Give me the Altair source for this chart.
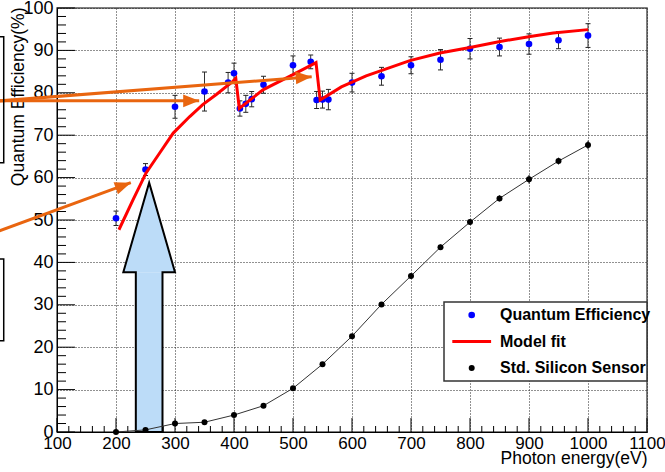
import math
import altair as alt
import pandas as pd

# ---------------------------------------------------------------------------
# Data
# ---------------------------------------------------------------------------
# Measured quantum efficiency of the sensor (%)
qe_energy = [200, 250, 300, 350, 390, 400, 410, 420, 430, 450, 500, 530,
             540, 550, 560, 600, 650, 700, 750, 800, 850, 900, 950, 1000]
qe_value = [50.4, 61.9, 76.7, 80.3, 82.4, 84.6, 76.3, 77.4, 78.5, 81.9, 86.5, 87.3,
            78.3, 78.4, 78.4, 82.4, 83.9, 86.5, 87.8, 90.4, 90.8, 91.5, 92.4, 93.5]
qe_error = [1.7, 1.4, 2.7, 4.6, 2.4, 2.4, 1.8, 2.0, 1.8, 2.0, 2.2, 1.6,
            2.0, 2.0, 2.4, 2.2, 2.1, 2.0, 2.4, 2.4, 2.1, 2.4, 2.0, 2.8]

# Model fit (absorption-edge model)
fit_energy = [205, 229, 251, 274, 297, 325, 347, 370, 398, 403, 409, 449,
              500, 539, 546, 582, 624, 698, 749, 800, 851, 902, 941, 1000]
fit_value = [47.7, 54.8, 61.1, 65.8, 70.5, 74.4, 77.2, 79.6, 82.7, 83.4, 76.3, 80.7,
             84.3, 87.1, 78.3, 81.4, 84.0, 87.6, 89.4, 90.7, 92.1, 93.3, 94.1, 94.9]

# Standard silicon sensor for comparison (%)
si_energy = [200, 250, 300, 350, 400, 450, 500, 550, 600, 650, 700, 750,
             800, 850, 900, 950, 1000]
si_value = [0.0, 0.5, 2.0, 2.3, 4.0, 6.2, 10.3, 16.0, 22.6, 30.1, 36.8, 43.6,
            49.5, 55.1, 59.6, 63.9, 67.7]
si_error = [0.2, 0.2, 0.3, 0.3, 0.3, 0.4, 0.4, 0.5, 0.5, 0.5, 0.6, 0.6,
            0.6, 0.7, 1.0, 0.8, 1.0]

# Axis ticks
x_tick_labels = list(range(100, 1101, 100))
y_tick_labels = list(range(0, 101, 10))
x_minor_ticks = [v for v in range(100, 1101, 20) if v % 100]
y_minor_ticks = [v for v in range(0, 101, 2) if v % 10]

legend_labels = ["Quantum Efficiency", "Model fit", "Std. Silicon Sensor"]

# ---------------------------------------------------------------------------
# Layout / style
# ---------------------------------------------------------------------------
W, H = 590, 424
FONT = "Liberation Sans"
BLUE, RED, BLACK = "#0000ff", "#ff0000", "#000000"
ORANGE = "#e9650f"
ARROW_FILL = "#bcdcf8"

xs = alt.Scale(domain=[100, 1100], nice=False, zero=False)
ys = alt.Scale(domain=[0, 100], nice=False, zero=False)

x_axis = alt.Axis(
    values=x_tick_labels, format="d", ticks=False,
    domainColor=BLACK, domainWidth=1,
    grid=True, gridDash=[1, 2], gridColor="#222", gridWidth=1,
    labelFont=FONT, labelFontSize=17, labelColor=BLACK, labelPadding=3,
    labelFlush=False, labelOverlap=False, labelBound=False,
    title="Photon energy(eV)", titleFont=FONT, titleFontSize=17.5,
    titleFontWeight="normal", titleColor=BLACK,
    titleAnchor="end", titleAlign="right", titleBaseline="alphabetic",
    titleX=W, titleY=31,
)
y_axis = alt.Axis(
    values=y_tick_labels, format="d", ticks=False,
    domainColor=BLACK, domainWidth=1,
    grid=True, gridDash=[1, 2], gridColor="#222", gridWidth=1,
    labelFont=FONT, labelFontSize=18, labelColor=BLACK, labelPadding=4,
    labelFlush=False, labelOverlap=False, labelBound=False,
    title="Quantum Efficiency(%)", titleFont=FONT, titleFontSize=17.5,
    titleFontWeight="normal", titleColor=BLACK,
    titleAngle=270, titleAnchor="end", titleAlign="right",
    titleBaseline="alphabetic", titleX=-34, titleY=-1,
)


def X(field):
    return alt.X(field, type="quantitative", scale=xs, axis=x_axis)


def Y(field):
    return alt.Y(field, type="quantitative", scale=ys, axis=y_axis)


qe_df = pd.DataFrame({"energy": qe_energy, "qe": qe_value, "err": qe_error})
qe_df["lo"] = qe_df["qe"] - qe_df["err"]
qe_df["hi"] = qe_df["qe"] + qe_df["err"]

si_df = pd.DataFrame({"energy": si_energy, "qe": si_value, "err": si_error})
si_df["lo"] = si_df["qe"] - si_df["err"]
si_df["hi"] = si_df["qe"] + si_df["err"]

fit_df = pd.DataFrame({"energy": fit_energy, "qe": fit_value})

layers = []

# Inward-pointing axis ticks
layers.append(alt.Chart(pd.DataFrame({"v": x_tick_labels})).mark_rule(color=BLACK, strokeWidth=1)
              .encode(x=X("v"), y=alt.value(H), y2=alt.value(H - 14)))
layers.append(alt.Chart(pd.DataFrame({"v": x_minor_ticks})).mark_rule(color=BLACK, strokeWidth=1)
              .encode(x=X("v"), y=alt.value(H), y2=alt.value(H - 6)))
layers.append(alt.Chart(pd.DataFrame({"v": y_tick_labels})).mark_rule(color=BLACK, strokeWidth=1)
              .encode(y=Y("v"), x=alt.value(0), x2=alt.value(18)))
layers.append(alt.Chart(pd.DataFrame({"v": y_minor_ticks})).mark_rule(color=BLACK, strokeWidth=1)
              .encode(y=Y("v"), x=alt.value(0), x2=alt.value(9)))

# Big light-blue arrow marking the low-energy region
ax, shaft, head, base, tip = 256.2, 22.6, 43.8, 37.7, 58.8
layers.append(alt.Chart(pd.DataFrame({"x": [ax - shaft], "x2": [ax + shaft], "y": [0], "y2": [base]}))
              .mark_rect(color=ARROW_FILL, opacity=1)
              .encode(x=X("x"), x2="x2", y=Y("y"), y2="y2"))
layers.append(alt.Chart(pd.DataFrame({"x": [ax - head, ax, ax + head], "y": [base, tip, base],
                                      "y2": [base, base, base]}))
              .mark_area(color=ARROW_FILL, opacity=1)
              .encode(x=X("x"), y=Y("y"), y2="y2"))
outline = pd.DataFrame({
    "x": [ax - shaft, ax - shaft, ax - head, ax, ax + head, ax + shaft, ax + shaft, ax - shaft],
    "y": [0, base, base, tip, base, base, 0, 0],
})
outline["o"] = range(len(outline))
layers.append(alt.Chart(outline).mark_line(color=BLACK, strokeWidth=2, strokeJoin="miter")
              .encode(x=X("x"), y=Y("y"), order="o:Q"))

# Standard silicon sensor
layers.append(alt.Chart(si_df).mark_line(color="#333", strokeWidth=1)
              .encode(x=X("energy"), y=Y("qe")))
layers.append(alt.Chart(si_df).mark_rule(color=BLACK, strokeWidth=1)
              .encode(x=X("energy"), y=Y("lo"), y2="hi"))
layers.append(alt.Chart(si_df).mark_point(filled=True, color=BLACK, size=36, opacity=1)
              .encode(x=X("energy"), y=Y("qe")))

# Quantum efficiency with error bars
layers.append(alt.Chart(qe_df).mark_rule(color="#333", strokeWidth=1)
              .encode(x=X("energy"), y=Y("lo"), y2="hi"))
for end in ("lo", "hi"):
    layers.append(alt.Chart(qe_df).mark_tick(orient="horizontal", color="#222", size=5, thickness=1, opacity=1)
                  .encode(x=X("energy"), y=Y(end)))
layers.append(alt.Chart(qe_df).mark_point(filled=True, color=BLUE, size=44, opacity=1)
              .encode(x=X("energy"), y=Y("qe")))

# Model fit
layers.append(alt.Chart(fit_df).mark_line(color=RED, strokeWidth=3, strokeJoin="miter")
              .encode(x=X("energy"), y=Y("qe")))

# Orange pointer arrows (start energy, start %, tip energy, tip %)
pointers = [(0, 47.3, 225.1, 58.8), (0, 78.1, 341.0, 78.1), (0, 78.06, 531.7, 83.8)]
px_per_x, px_per_y = W / 1000.0, H / 100.0
seg_rows, head_rows = [], []
for i, (x0, y0, x1, y1) in enumerate(pointers):
    seg_rows += [{"id": i, "o": 0, "x": x0, "y": y0}, {"id": i, "o": 1, "x": x1, "y": y1}]
    ang = math.degrees(math.atan2((y1 - y0) * px_per_y, (x1 - x0) * px_per_x))
    head_rows.append({"x": x1, "y": y1, "angle": (360 - ang) % 360})
layers.append(alt.Chart(pd.DataFrame(seg_rows)).mark_line(color=ORANGE, strokeWidth=3, clip=False)
              .encode(x=X("x"), y=Y("y"), detail="id:N", order="o:Q"))
layers.append(alt.Chart(pd.DataFrame(head_rows))
              .mark_point(shape="M0,0L-2,-0.8L-2,0.8Z", filled=True, color=ORANGE, size=256, opacity=1, clip=False)
              .encode(x=X("x"), y=Y("y"), angle=alt.Angle("angle:Q", scale=None)))

# Frames of neighbouring panels reaching into the left margin
frames = pd.DataFrame({"x": [-60, -60], "x2": [9.7, 9.7], "y": [63.5, 21.5], "y2": [93.2, 40.8]})
layers.append(alt.Chart(frames).mark_rect(filled=False, stroke=BLACK, strokeWidth=1.5, clip=False)
              .encode(x=X("x"), x2="x2", y=Y("y"), y2="y2"))

# Legend
one = pd.DataFrame({"k": [0]})
LX0, LX1, LY0, LY1 = 387, 590, 294, 373
layers.append(alt.Chart(one).mark_rect(fill="white", stroke="#333", strokeWidth=1.5)
              .encode(x=alt.value(LX0), x2=alt.value(LX1), y=alt.value(LY0), y2=alt.value(LY1)))
sym_x, row0, row_gap = 414.7, 307, 26.5
styles = [("point", BLUE, 44), ("line", RED, 0), ("point", BLACK, 36)]
for i, (label, (kind, col, sz)) in enumerate(zip(legend_labels, styles)):
    ry = row0 + i * row_gap
    if kind == "point":
        layers.append(alt.Chart(one).mark_point(filled=True, color=col, size=sz, opacity=1)
                      .encode(x=alt.value(sym_x), y=alt.value(ry)))
    else:
        layers.append(alt.Chart(one).mark_rule(color=col, strokeWidth=3)
                      .encode(x=alt.value(sym_x - 19.4), x2=alt.value(sym_x + 19.4), y=alt.value(ry)))
    layers.append(alt.Chart(one).mark_text(align="left", baseline="middle", font=FONT, fontSize=16,
                                           fontWeight="bold", color=BLACK)
                  .encode(x=alt.value(443), y=alt.value(ry), text=alt.value(label)))

chart = (
    alt.layer(*layers)
    .properties(width=W, height=H,
                padding={"left": 57, "top": 8, "right": 18, "bottom": 40},
                autosize=alt.AutoSizeParams(type="none"),
                background="white")
    .configure_view(stroke="#555", strokeWidth=1.5)
)

chart.save("out.html", embed_options={"renderer": "svg", "actions": False})
